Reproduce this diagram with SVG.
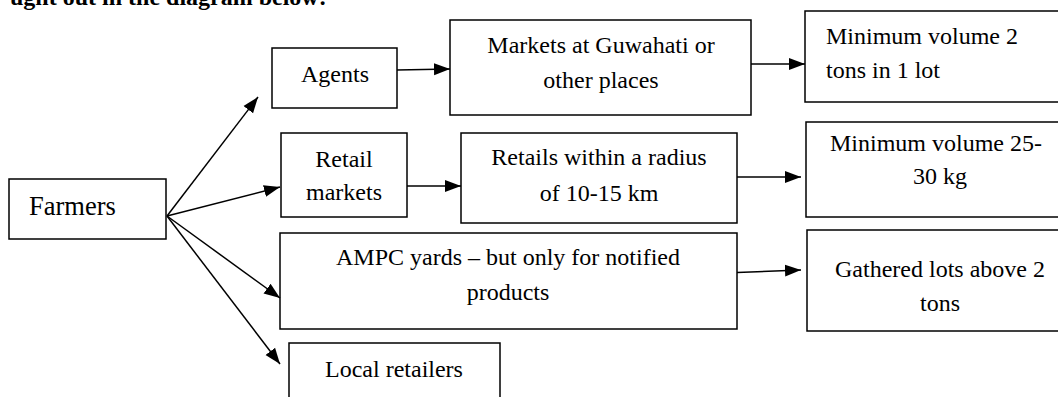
<svg xmlns="http://www.w3.org/2000/svg" width="1058" height="397" viewBox="0 0 1058 397">
<style>
.box{fill:#fff;stroke:#000;stroke-width:1.5}
.t{font-family:'Liberation Serif','Times New Roman','DejaVu Serif',serif;font-size:24px;fill:#000}
.c{text-anchor:middle}
.big{font-size:26.5px}
.edge{stroke:#000;stroke-width:1.5;fill:none;marker-end:url(#ah)}
</style>
<defs>
<marker id="ah" markerUnits="userSpaceOnUse" markerWidth="17" markerHeight="14" refX="16" refY="7" orient="auto">
<path d="M0,1 L16,7 L0,13 z" fill="#000"/>
</marker>
</defs>
<rect width="1058" height="397" fill="#fff"/>
<text x="10" y="4.5" class="t" font-weight="bold">ught out in the diagram below:</text>

<g id="farmers"><rect class="box" x="9" y="179" width="157" height="60"/><text class="t big" x="29" y="215">Farmers</text></g>
<g id="agents"><rect class="box" x="272" y="48" width="125" height="60"/><text class="t c" x="335" y="82">Agents</text></g>
<g id="markets"><rect class="box" x="450" y="20" width="301" height="95"/><text class="t c" x="601" y="53">Markets at Guwahati or</text><text class="t c" x="601" y="88">other places</text></g>
<g id="min2"><rect class="box" x="805" y="11" width="260" height="91"/><text class="t" x="826" y="44">Minimum volume 2</text><text class="t" x="826" y="78">tons in 1 lot</text></g>
<g id="retailmarkets"><rect class="box" x="281" y="133" width="126" height="84"/><text class="t c" x="344" y="167">Retail</text><text class="t c" x="344" y="200">markets</text></g>
<g id="retails"><rect class="box" x="461" y="133" width="276" height="90"/><text class="t c" x="599" y="165">Retails within a radius</text><text class="t c" x="599" y="201">of 10-15 km</text></g>
<g id="min25"><rect class="box" x="806" y="122" width="260" height="95"/><text class="t c" x="936" y="151">Minimum volume 25-</text><text class="t c" x="940" y="184">30 kg</text></g>
<g id="ampc"><rect class="box" x="280" y="233" width="457" height="96"/><text class="t c" x="508" y="265">AMPC yards – but only for notified</text><text class="t c" x="508" y="300">products</text></g>
<g id="gathered"><rect class="box" x="807" y="230" width="260" height="101"/><text class="t c" x="940" y="277">Gathered lots above 2</text><text class="t c" x="940" y="311">tons</text></g>
<g id="local"><rect class="box" x="289" y="343" width="211" height="70"/><text class="t c" x="394" y="377">Local retailers</text></g>

<g id="connectors">
<line class="edge" x1="167" y1="216" x2="258" y2="97"/>
<line class="edge" x1="167" y1="216" x2="280" y2="187"/>
<line class="edge" x1="167" y1="216" x2="280" y2="298"/>
<line class="edge" x1="167" y1="216" x2="280" y2="364"/>
<line class="edge" x1="397" y1="70" x2="450" y2="69"/>
<line class="edge" x1="751" y1="64" x2="805" y2="64"/>
<line class="edge" x1="407" y1="186" x2="461" y2="186"/>
<line class="edge" x1="737" y1="177" x2="801" y2="177"/>
<line class="edge" x1="737" y1="272.5" x2="801" y2="270"/>
</g>
</svg>
